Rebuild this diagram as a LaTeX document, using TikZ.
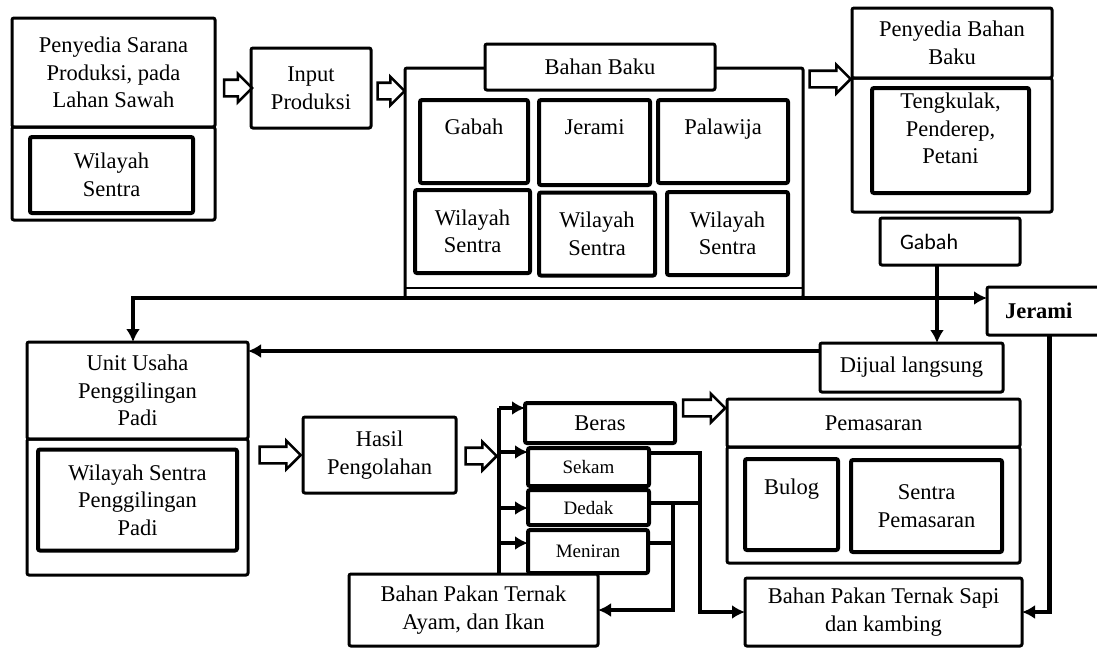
\documentclass[tikz,border=0pt]{standalone}
\usepackage{fontspec}
\setmainfont{Liberation Serif}
\newfontfamily\gabahfont{Carlito}
\usetikzlibrary{arrows.meta,shapes.arrows}
\newcommand{\besar}{\fontsize{22.5}{27.5}\selectfont}
\newcommand{\kecil}{\fontsize{19}{23}\selectfont}
\tikzset{
  bingkai/.style={draw, line width=3pt, rounded corners=2pt, inner sep=0pt, outer sep=0pt, align=center, font=\besar},
  kotak/.style={bingkai, line width=4pt},
  panahbesar/.style={single arrow, draw, line width=2.6pt, inner xsep=0pt, inner ysep=7pt, single arrow head extend=6pt, minimum height=#1},
  panahbesar/.default=36pt,
  alur/.style={line width=4.5pt},
  every label/.style={font=\besar, align=center, inner sep=0pt},
  teksatas/.style={text height=16pt, text depth=0pt},
}
\begin{document}
\begin{tikzpicture}[x=1pt, y=-1pt, >={Latex[length=13pt,width=14pt]}]
  \useasboundingbox (0,0) rectangle (1097,648);
  \clip (0,0) rectangle (1097,648);

  % penyedia sarana produksi
  \node[bingkai, minimum width=203pt, minimum height=109pt] (saranaJudul) at (113.5,72.5) {Penyedia Sarana\\Produksi, pada\\Lahan Sawah};
  \node[bingkai, minimum width=203pt, minimum height=93pt, anchor=north] (saranaBawah) at (saranaJudul.south) {};
  \node[kotak, minimum width=163pt, minimum height=76pt] (saranaSentra) at (111.5,175) {Wilayah\\Sentra};

  \node[panahbesar=28pt] (p1) at (234,88) {};
  \node[bingkai, minimum width=120pt, minimum height=80pt] (input) at (311,88) {Input\\Produksi};
  \node[panahbesar=27pt] (p2) at (387,91) {};

  % bahan baku
  \node[bingkai, minimum width=398pt, minimum height=230pt] (bahanBaku) at (604,183) {};
  \draw[line width=2pt] (bahanBaku.west |- 0,288) -- (bahanBaku.east |- 0,288);
  \node[bingkai, fill=white, minimum width=230pt, minimum height=46pt] (bahanJudul) at (600,67) {Bahan Baku};
  \node[kotak, minimum width=108pt, minimum height=83pt, label={[teksatas, yshift=15pt]center:Gabah}] (gabahBB) at (474,141.5) {};
  \node[kotak, minimum width=111pt, minimum height=85pt, label={[teksatas, yshift=16pt]center:Jerami}] (jeramiBB) at (594.5,142.5) {};
  \node[kotak, minimum width=130pt, minimum height=83pt, label={[teksatas, yshift=15pt]center:Palawija}] (palawija) at (723,141.5) {};
  \foreach \n/\x/\y/\w in {sentraA/472.5/231.5/115, sentraB/597/234/116, sentraC/727.5/233.5/121}
    \node[kotak, minimum width=\w pt, minimum height=83pt] (\n) at (\x,\y) {Wilayah\\Sentra};

  % penyedia bahan baku
  \node[panahbesar=41pt] (p3) at (826,79) {};
  \node[bingkai, minimum width=200pt, minimum height=70pt] (pbbJudul) at (952,43) {Penyedia Bahan\\Baku};
  \node[bingkai, minimum width=200pt, minimum height=134pt, anchor=north] (pbbBawah) at (pbbJudul.south) {};
  \node[kotak, minimum width=157pt, minimum height=105pt, label={[yshift=12pt]center:Tengkulak,\\Penderep,\\Petani}] (tengkulak) at (950.5,140.5) {};
  \node[bingkai, font=\gabahfont\fontsize{22}{26}\selectfont, text width=100pt, align=left, inner xsep=20pt, minimum height=47pt] (gabahKanan) at (950,241.5) {Gabah};
  \node[bingkai, font=\bfseries\besar, anchor=west, text width=89pt, align=left, inner xsep=18pt, minimum height=48pt] (jeramiKanan) at (987,311) {Jerami};
  \node[bingkai, minimum width=183pt, minimum height=49pt] (dijual) at (911.5,367.5) {Dijual langsung};

  % penggilingan
  \node[bingkai, minimum width=221pt, minimum height=97pt] (unitJudul) at (137.5,390.5) {Unit Usaha\\Penggilingan\\Padi};
  \node[bingkai, minimum width=221pt, minimum height=136pt, anchor=north] (unitBawah) at (unitJudul.south) {};
  \node[kotak, minimum width=199pt, minimum height=101pt] (unitSentra) at (137.5,500) {Wilayah Sentra\\Penggilingan\\Padi};

  \node[panahbesar=41pt] (p4) at (276,455) {};
  \node[bingkai, minimum width=153pt, minimum height=76pt] (hasil) at (379.5,455) {Hasil\\Pengolahan};
  \node[panahbesar=31pt] (p5) at (477,456) {};

  \node[kotak, minimum width=150pt, minimum height=40pt] (beras) at (600,423) {Beras};
  \node[kotak, font=\kecil, minimum width=121pt, minimum height=38pt] (sekam) at (588.5,467) {Sekam};
  \node[kotak, font=\kecil, minimum width=121pt, minimum height=35pt] (dedak) at (588.5,507.5) {Dedak};
  \node[kotak, font=\kecil, minimum width=120pt, minimum height=43pt] (meniran) at (588,551.5) {Meniran};
  \node[bingkai, minimum width=249pt, minimum height=72pt] (ayam) at (473.5,610) {Bahan Pakan Ternak\\Ayam, dan Ikan};

  % pemasaran
  \node[panahbesar=42pt] (p6) at (700,408) {};
  \node[bingkai, minimum width=293pt, minimum height=48pt] (pemasaranJudul) at (873.5,423) {Pemasaran};
  \node[bingkai, minimum width=293pt, minimum height=116pt, anchor=north] (pemasaranBawah) at (pemasaranJudul.south) {};
  \node[kotak, minimum width=93pt, minimum height=91pt, label={[teksatas, yshift=18pt]center:Bulog}] (bulog) at (791.5,504.5) {};
  \node[kotak, minimum width=151pt, minimum height=92pt] (sentraPemasaran) at (926.5,506) {Sentra\\Pemasaran};
  \node[bingkai, minimum width=277pt, minimum height=68pt] (sapi) at (883.5,612) {Bahan Pakan Ternak Sapi\\dan kambing};

  % alur
  \coordinate (simpang) at (133,298);
  \draw[alur, <->] (unitJudul.north -| simpang) |- (jeramiKanan.west |- simpang);
  \draw[alur, ->] ([xshift=-13pt]gabahKanan.south) -- ([xshift=-13pt]gabahKanan.south |- dijual.north);
  \draw[alur, ->] ([yshift=-8pt]dijual.north west) -- ([yshift=-8pt]dijual.north west -| unitJudul.east);
  \draw[alur, ->] (jeramiKanan.south) |- (sapi.east);

  \coordinate (cabang) at (499,408);
  \draw[alur] (cabang) -- (cabang |- ayam.north);
  \foreach \n/\y in {beras/408, sekam/452, dedak/508, meniran/543}
    \draw[alur, ->] (cabang |- 0,\y) -- (\n.west |- 0,\y);

  \draw[alur, ->] (sekam.east |- 0,453) -| (700,612) -- (sapi.west);
  \draw[alur] (dedak.east |- 0,503) -- (700,503);
  \draw[alur, ->] (673,503) |- (ayam.east);
  \draw[alur] (meniran.east |- 0,543) -- (673,543);
\end{tikzpicture}
\end{document}
